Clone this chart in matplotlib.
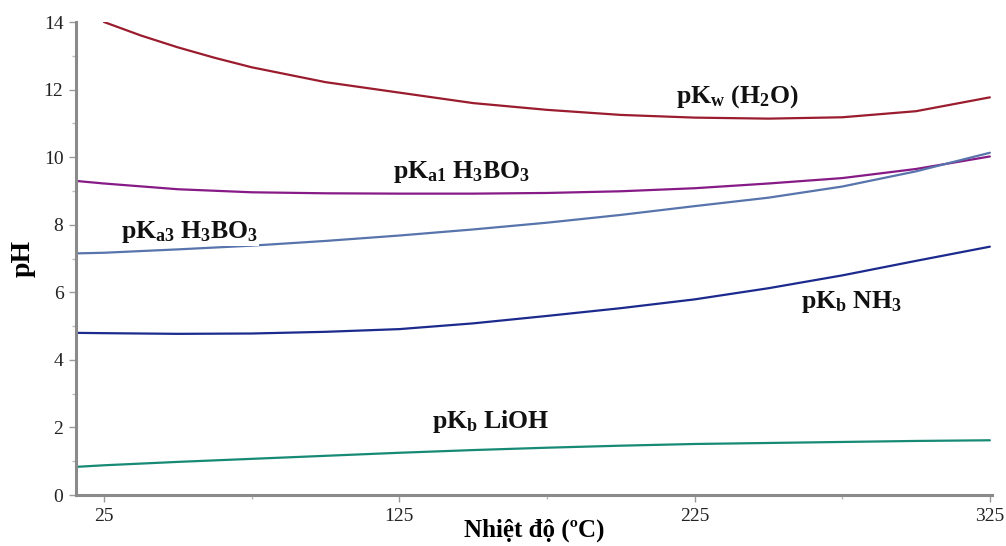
import matplotlib
matplotlib.use("Agg")
import matplotlib.pyplot as plt
from matplotlib.ticker import MultipleLocator, FixedLocator

plt.rcParams['font.family'] = ['Liberation Serif', 'DejaVu Serif']
plt.rcParams['mathtext.fontset'] = 'custom'
plt.rcParams['mathtext.rm'] = 'Liberation Serif:bold'
plt.rcParams['mathtext.bf'] = 'Liberation Serif:bold'
plt.rcParams['mathtext.it'] = 'Liberation Serif:bold'

# Temperature (°C)
t_kw = [25, 37.5, 50, 62.5, 75, 100, 125, 150, 175, 200, 225, 250, 275, 300, 325]
t = [15, 25, 50, 75, 100, 125, 150, 175, 200, 225, 250, 275, 300, 325]

pkw_h2o = [14.0, 13.6, 13.25, 12.94, 12.66, 12.22, 11.91, 11.60, 11.40, 11.25, 11.17, 11.14, 11.18, 11.36, 11.77]
pka1_h3bo3 = [9.30, 9.22, 9.05, 8.96, 8.93, 8.92, 8.92, 8.94, 8.99, 9.08, 9.22, 9.38, 9.65, 10.02]
pka3_h3bo3 = [7.15, 7.17, 7.27, 7.38, 7.52, 7.68, 7.86, 8.06, 8.29, 8.55, 8.80, 9.13, 9.58, 10.13]
pkb_nh3 = [4.80, 4.79, 4.77, 4.78, 4.83, 4.91, 5.08, 5.30, 5.53, 5.79, 6.12, 6.50, 6.93, 7.35]
pkb_lioh = [0.83, 0.88, 0.98, 1.07, 1.16, 1.25, 1.33, 1.40, 1.46, 1.51, 1.54, 1.57, 1.60, 1.62]

xticks = [25, 125, 225, 325]
yticks = [0, 2, 4, 6, 8, 10, 12, 14]

fig = plt.figure(figsize=(10.06, 5.46), dpi=100)
ax = fig.add_axes([0.0755, 0.0934, 0.9105, 0.8663])

lw = 1.6
kw = dict(lw=lw, zorder=2, solid_joinstyle='round', solid_capstyle='round')
ax.plot(t_kw, pkw_h2o, color='#9a1c2e', **kw)
ax.plot(t, pka1_h3bo3, color='#861a86', **kw)
ax.plot(t, pka3_h3bo3, color='#5874ac', **kw)
ax.plot(t, pkb_nh3, color='#1c2a8e', **kw)
ax.plot(t, pkb_lioh, color='#178a76', **kw)

box = dict(facecolor='white', edgecolor='none', pad=0.5)
fs = 18.5
tk = dict(fontsize=fs, fontweight='bold', ha='center', va='center', bbox=box, zorder=3, color='#111111')
ax.text(239.5, 11.80, r'pK$_{\mathrm{w}}$ (H$_{\mathrm{2}}$O)', **tk)
ax.text(146, 9.55, r'pK$_{\mathrm{a1}}$ H$_{\mathrm{3}}$BO$_{\mathrm{3}}$', **tk)
ax.text(54, 7.77, r'pK$_{\mathrm{a3}}$ H$_{\mathrm{3}}$BO$_{\mathrm{3}}$', **tk)
ax.text(278, 5.72, r'pK$_{\mathrm{b}}$ NH$_{\mathrm{3}}$', **tk)
ax.text(156, 2.18, r'pK$_{\mathrm{b}}$ LiOH', **tk)

ax.set_xlim(15.5, 325.7)
ax.set_ylim(0, 14)
ax.xaxis.set_major_locator(FixedLocator(xticks))
ax.xaxis.set_minor_locator(FixedLocator([75, 175, 275]))
ax.yaxis.set_major_locator(FixedLocator(yticks))
ax.yaxis.set_minor_locator(MultipleLocator(1))

for s in ['top', 'right']:
    ax.spines[s].set_visible(False)
for s in ['left', 'bottom']:
    ax.spines[s].set_color('#8a8a8a')
    ax.spines[s].set_linewidth(2.2)

ax.tick_params(which='major', direction='out', length=5, width=1, color='#9a9a9a', labelsize=14, labelcolor='#222222', pad=4)
ax.tick_params(which='minor', direction='out', length=3, width=1, color='#bbbbbb')

ax.set_xlabel('Nhiệt độ (ºC)', fontsize=18, fontweight='bold', labelpad=-4)
ax.set_ylabel('pH', fontsize=20, fontweight='bold', labelpad=6)

fig.savefig('out.png', dpi=100)
